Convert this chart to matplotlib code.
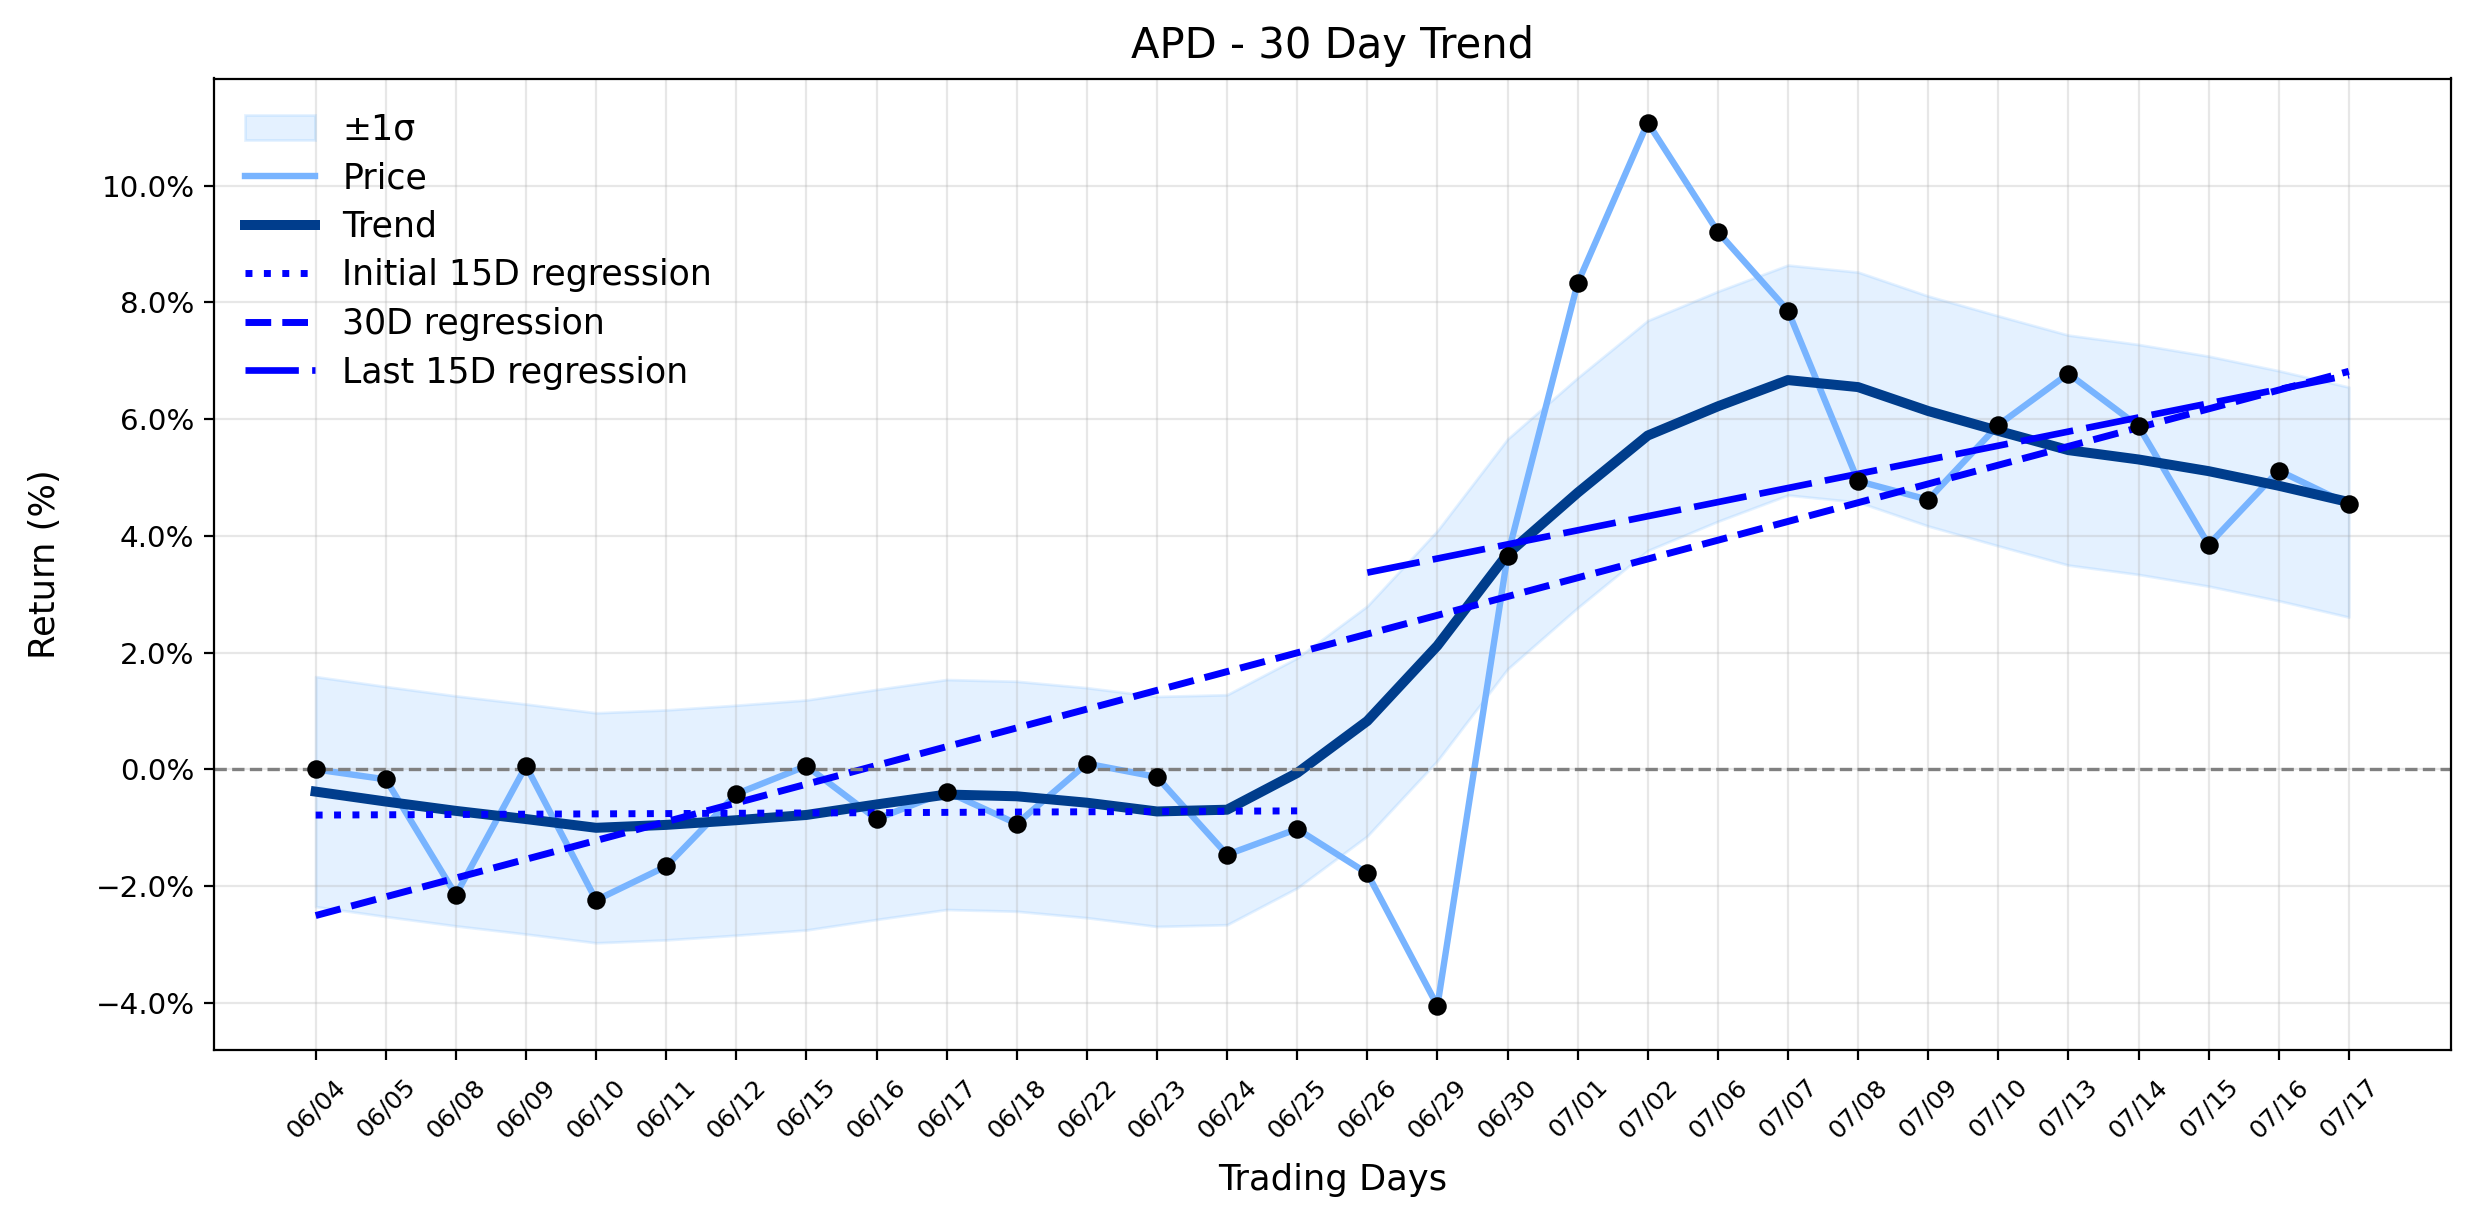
import matplotlib
matplotlib.use("Agg")
import matplotlib.pyplot as plt
from matplotlib.ticker import PercentFormatter
import numpy as np

# trading days shown on the x axis
dates = ['06/04', '06/05', '06/08', '06/09', '06/10', '06/11', '06/12', '06/15',
         '06/16', '06/17', '06/18', '06/22', '06/23', '06/24', '06/25', '06/26',
         '06/29', '06/30', '07/01', '07/02', '07/06', '07/07', '07/08', '07/09',
         '07/10', '07/13', '07/14', '07/15', '07/16', '07/17']

# cumulative return (%)
price = [0.00, -0.17, -2.15, 0.06, -2.24, -1.66, -0.42, 0.06, -0.85, -0.38,
         -0.93, 0.10, -0.13, -1.46, -1.02, -1.78, -4.05, 3.66, 8.33, 11.08,
         9.21, 7.86, 4.94, 4.62, 5.90, 6.78, 5.88, 3.85, 5.12, 4.54]

# smoothed trend (%)
trend = [-0.38, -0.55, -0.71, -0.85, -1.00, -0.95, -0.87, -0.78, -0.60, -0.43,
         -0.46, -0.57, -0.72, -0.69, -0.06, 0.83, 2.12, 3.69, 4.74, 5.72,
         6.22, 6.67, 6.55, 6.14, 5.80, 5.47, 5.31, 5.11, 4.86, 4.58]

sigma = 1.97  # half width of the band around the trend

x = np.arange(len(dates))
price = np.array(price)
trend = np.array(trend)

fig = plt.figure(figsize=(12.37, 6.12), dpi=200)
ax = fig.add_axes([214 / 2474, 1 - 1050 / 1224, (2450.5 - 214) / 2474, (1050 - 78.5) / 1224])

ax.fill_between(x, trend - sigma, trend + sigma, color='#4da6ff', alpha=0.15, label='±1σ')
ax.plot(x, price, color='#78b4ff', lw=2.3, label='Price')
ax.plot(x, trend, color='#003d8c', lw=3.6, label='Trend')

# regressions fitted on the price series
half = 15
k, b = np.polyfit(x[:half], price[:half], 1)
ax.plot(x[:half], k * x[:half] + b, color='blue', lw=2.5, ls=':', label='Initial 15D regression')
k, b = np.polyfit(x, price, 1)
ax.plot(x, k * x + b, color='blue', lw=2.5, ls='--', label='30D regression')
k, b = np.polyfit(x[half:], price[half:], 1)
ax.plot(x[half:], k * x[half:] + b, color='blue', lw=2.4, dashes=(8, 2), label='Last 15D regression')

ax.scatter(x, price, s=32, color='black', zorder=5)
ax.axhline(0, color='gray', ls='--', lw=1.2)

ax.set_xticks(x)
ax.set_xticklabels(dates, rotation=45, fontsize=9)
ax.tick_params(axis='x', pad=5.3)
ax.tick_params(axis='y', labelsize=10.6)
ax.yaxis.set_major_formatter(PercentFormatter(xmax=100, decimals=1))
ax.grid(True, alpha=0.3)

ax.set_title('APD - 30 Day Trend', fontsize=15, pad=7.5)
ax.set_xlabel('Trading Days', fontsize=12.7, labelpad=7.5)
ax.set_ylabel('Return (%)', fontsize=12.7, labelpad=12)
ax.legend(loc='upper left', bbox_to_anchor=(0, 0.997), frameon=False,
          fontsize=12.5, labelspacing=0.42)

fig.savefig('out.png', dpi=200)
